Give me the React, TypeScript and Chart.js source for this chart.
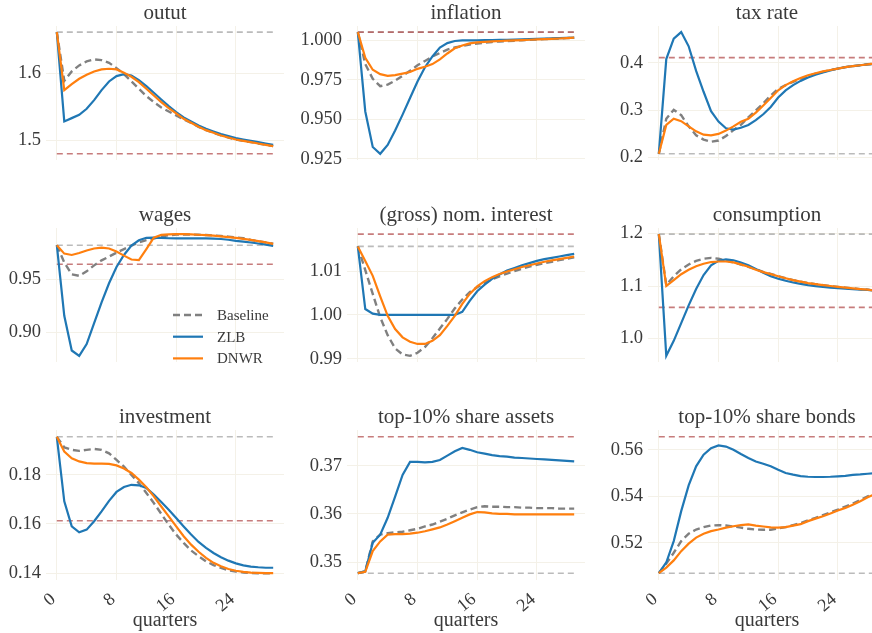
import React, { useEffect, useRef } from 'react';
import { Chart, registerables } from 'chart.js';
Chart.register(...registerables);

// ---------------- data ----------------
const quarters = [0,1,2,3,4,5,6,7,8,9,10,11,12,13,14,15,16,17,18,19,20,21,22,23,24,25,26,27,28,29];
const xTickValues = [0, 8, 16, 24];
const seriesLabels = ['Baseline', 'ZLB', 'DNWR'];

const outputBaseline = [1.662,1.589,1.603,1.612,1.618,1.621,1.620,1.616,1.608,1.599,1.588,1.577,1.566,1.557,1.549,1.543,1.537,1.531,1.526,1.520,1.515,1.511,1.507,1.504,1.501,1.499,1.497,1.495,1.493,1.491];
const outputZLB = [1.662,1.528,1.533,1.538,1.547,1.560,1.575,1.588,1.596,1.599,1.597,1.590,1.581,1.571,1.561,1.551,1.542,1.534,1.528,1.522,1.517,1.513,1.509,1.506,1.503,1.501,1.499,1.497,1.495,1.493];
const outputDNWR = [1.662,1.575,1.584,1.592,1.598,1.603,1.606,1.607,1.606,1.601,1.595,1.587,1.577,1.567,1.557,1.548,1.540,1.532,1.526,1.520,1.515,1.511,1.507,1.504,1.501,1.499,1.497,1.495,1.493,1.491];

const inflationBaseline = [1.0052,0.985,0.9757,0.971,0.972,0.9745,0.9776,0.9808,0.9842,0.987,0.9898,0.992,0.9942,0.9955,0.9964,0.9974,0.998,0.9985,0.999,0.9993,0.9996,0.9998,1.0001,1.0003,1.0006,1.0008,1.001,1.0012,1.0014,1.0017];
const inflationZLB = [1.0052,0.955,0.9325,0.9282,0.9338,0.943,0.953,0.9635,0.974,0.983,0.9898,0.9955,0.9983,0.9996,1.0,1.0,1.0,1.0001,1.0002,1.0003,1.0004,1.0005,1.0006,1.0008,1.001,1.0011,1.0013,1.0014,1.0016,1.0018];
const inflationDNWR = [1.0052,0.9889,0.9814,0.9786,0.9776,0.978,0.979,0.980,0.982,0.9833,0.985,0.988,0.9917,0.995,0.9968,0.9981,0.9987,0.9991,0.9994,0.9996,0.9998,1.0,1.0002,1.0004,1.0006,1.0008,1.001,1.0012,1.0014,1.0017];

const taxBaseline = [0.208,0.282,0.301,0.2896,0.266,0.247,0.238,0.2335,0.236,0.2455,0.258,0.269,0.285,0.2996,0.3148,0.331,0.345,0.353,0.360,0.366,0.372,0.377,0.381,0.385,0.388,0.391,0.393,0.395,0.397,0.398];
const taxZLB = [0.208,0.408,0.451,0.465,0.435,0.383,0.339,0.298,0.276,0.262,0.259,0.263,0.269,0.279,0.2915,0.307,0.327,0.342,0.353,0.362,0.369,0.375,0.380,0.384,0.388,0.391,0.393,0.395,0.397,0.398];
const taxDNWR = [0.208,0.269,0.282,0.277,0.266,0.2555,0.2485,0.247,0.250,0.257,0.266,0.2758,0.282,0.295,0.310,0.326,0.342,0.353,0.361,0.368,0.374,0.378,0.382,0.385,0.388,0.391,0.393,0.395,0.397,0.399];

const wagesBaseline = [0.9817,0.9655,0.9544,0.953,0.9572,0.9628,0.9675,0.971,0.9747,0.978,0.9813,0.9842,0.9864,0.988,0.9897,0.991,0.9916,0.9918,0.9917,0.9915,0.9912,0.9908,0.9903,0.9897,0.989,0.9882,0.9866,0.9855,0.9842,0.983];
const wagesZLB = [0.9817,0.9155,0.883,0.878,0.889,0.9086,0.928,0.946,0.9613,0.9725,0.9813,0.9863,0.9886,0.9888,0.9885,0.9882,0.988,0.988,0.988,0.988,0.988,0.9878,0.9875,0.9868,0.9858,0.985,0.9842,0.9833,0.9822,0.981];
const wagesDNWR = [0.9817,0.9738,0.9725,0.9744,0.9767,0.9786,0.9794,0.9786,0.9758,0.9719,0.9683,0.9677,0.978,0.9888,0.9913,0.9919,0.9921,0.992,0.9918,0.9915,0.9911,0.9906,0.99,0.9893,0.9885,0.9876,0.9866,0.9855,0.9843,0.983];

const interestBaseline = [1.0156,1.0102,1.0048,0.9995,0.9954,0.9924,0.991,0.9907,0.9914,0.9927,0.9947,0.9969,0.9991,1.0015,1.0035,1.0052,1.0063,1.0073,1.0081,1.0088,1.0094,1.01,1.0105,1.011,1.0114,1.0118,1.0121,1.0125,1.0128,1.0131];
const interestZLB = [1.0156,1.00135,1.0003,1.0,1.0,1.0,1.0,1.0,1.0,1.0,1.0,1.0,1.0,1.0,1.0007,1.0032,1.0054,1.0069,1.0082,1.0092,1.0101,1.0107,1.0113,1.0118,1.0123,1.0127,1.013,1.0133,1.0136,1.0139];
const interestDNWR = [1.0156,1.0123,1.0089,1.0042,0.9998,0.9968,0.9949,0.9939,0.9934,0.9934,0.9941,0.9954,0.9975,0.9998,1.0025,1.0048,1.0065,1.0077,1.0086,1.0093,1.0099,1.0104,1.0109,1.0113,1.0117,1.0121,1.0124,1.0127,1.013,1.0133];

const consumptionBaseline = [1.199,1.102,1.1186,1.132,1.141,1.148,1.152,1.1537,1.152,1.149,1.145,1.141,1.1366,1.132,1.127,1.1232,1.1186,1.1148,1.1113,1.1083,1.1056,1.1035,1.1017,1.1,1.0983,1.0968,1.0955,1.0942,1.093,1.091];
const consumptionZLB = [1.199,0.967,0.9955,1.0293,1.0632,1.0943,1.121,1.1395,1.148,1.1508,1.1492,1.145,1.1395,1.1327,1.1254,1.1186,1.114,1.11,1.1068,1.104,1.1017,1.0998,1.0983,1.097,1.096,1.095,1.094,1.0932,1.0925,1.0915];
const consumptionDNWR = [1.199,1.1,1.1113,1.1225,1.131,1.1378,1.1424,1.1457,1.1468,1.1468,1.145,1.1412,1.1366,1.131,1.1265,1.1226,1.1186,1.1148,1.1113,1.1083,1.1056,1.1035,1.1017,1.1,1.0983,1.0968,1.0955,1.0942,1.093,1.091];

const investmentBaseline = [0.1954,0.1911,0.1901,0.1897,0.1901,0.1905,0.1901,0.1887,0.186,0.1833,0.1799,0.1766,0.1726,0.1685,0.1641,0.1597,0.1557,0.1523,0.1492,0.1469,0.1448,0.1433,0.1422,0.1412,0.1407,0.1403,0.1401,0.14,0.14,0.14];
const investmentZLB = [0.1954,0.1692,0.159,0.1566,0.1577,0.1611,0.1651,0.1694,0.173,0.175,0.1759,0.1757,0.1746,0.1719,0.1689,0.1658,0.1624,0.159,0.1557,0.1527,0.1503,0.1482,0.1465,0.1451,0.144,0.1432,0.1427,0.1424,0.1422,0.1422];
const investmentDNWR = [0.1954,0.1894,0.1867,0.1854,0.1847,0.1845,0.1845,0.1844,0.1838,0.1825,0.1807,0.178,0.1749,0.1712,0.1671,0.1631,0.159,0.155,0.1516,0.1487,0.1462,0.1442,0.1428,0.1417,0.141,0.1405,0.1402,0.1401,0.14,0.14];

const assetsBaseline = [0.3477,0.3481,0.3543,0.3557,0.356,0.3562,0.3563,0.3566,0.3569,0.3574,0.3578,0.3584,0.359,0.3597,0.3603,0.3609,0.3614,0.3616,0.3615,0.3615,0.3614,0.3614,0.3613,0.3613,0.3612,0.3612,0.3612,0.3611,0.3611,0.3611];
const assetsZLB = [0.3477,0.3481,0.354,0.3557,0.3592,0.3636,0.3681,0.3708,0.3708,0.3707,0.3708,0.3712,0.3721,0.373,0.3737,0.3733,0.3728,0.3725,0.3722,0.372,0.3719,0.3717,0.3716,0.3715,0.3714,0.3713,0.3712,0.3711,0.371,0.3709];
const assetsDNWR = [0.3477,0.348,0.3523,0.3543,0.3557,0.3558,0.3558,0.3559,0.3561,0.3564,0.3568,0.3572,0.3578,0.3585,0.3592,0.3599,0.3604,0.3603,0.3601,0.36,0.36,0.3599,0.3599,0.3599,0.3599,0.3599,0.3599,0.3599,0.3599,0.3599];

const bondsBaseline = [0.5069,0.511,0.5157,0.5207,0.5239,0.5257,0.5267,0.5274,0.5276,0.5274,0.527,0.5265,0.526,0.5257,0.5256,0.5256,0.5262,0.5267,0.5276,0.5285,0.5296,0.5307,0.5319,0.5331,0.5343,0.5356,0.5369,0.5384,0.54,0.5413];
const bondsZLB = [0.5069,0.5115,0.5207,0.5336,0.5447,0.5529,0.5579,0.5607,0.5619,0.5614,0.56,0.5582,0.5565,0.555,0.554,0.5529,0.5514,0.55,0.5493,0.5487,0.5484,0.5483,0.5483,0.5484,0.5486,0.5488,0.5492,0.5494,0.5497,0.55];
const bondsDNWR = [0.5069,0.5093,0.5124,0.5164,0.5196,0.5222,0.5239,0.525,0.5257,0.5265,0.5271,0.5276,0.5279,0.5274,0.527,0.5266,0.5265,0.5267,0.5274,0.528,0.5293,0.5304,0.5314,0.5326,0.5339,0.535,0.5364,0.5379,0.5396,0.541];

// initial steady state (light gray dashed) and final steady state (red dashed)
const initialLevels = [1.662, 1.0052, 0.208, 0.9817, 1.0156, 1.199, 0.1954, 0.3477, 0.5069];
const finalLevels = [1.4795, 1.00525, 0.411, 0.9638, 1.0184, 1.0593, 0.1613, 0.376, 0.5656];

const panelTitles = ['outut', 'inflation', 'tax rate', 'wages', '(gross) nom. interest', 'consumption', 'investment', 'top-10% share assets', 'top-10% share bonds'];
const yTickLists = [
  [1.5, 1.6],
  [0.925, 0.95, 0.975, 1.0],
  [0.2, 0.3, 0.4],
  [0.9, 0.95],
  [0.99, 1.0, 1.01],
  [1.0, 1.1, 1.2],
  [0.14, 0.16, 0.18],
  [0.35, 0.36, 0.37],
  [0.52, 0.54, 0.56],
];
const yDecimals = [1, 3, 1, 2, 2, 1, 2, 2, 2];

const baselineSeries = [outputBaseline, inflationBaseline, taxBaseline, wagesBaseline, interestBaseline, consumptionBaseline, investmentBaseline, assetsBaseline, bondsBaseline];
const zlbSeries = [outputZLB, inflationZLB, taxZLB, wagesZLB, interestZLB, consumptionZLB, investmentZLB, assetsZLB, bondsZLB];
const dnwrSeries = [outputDNWR, inflationDNWR, taxDNWR, wagesDNWR, interestDNWR, consumptionDNWR, investmentDNWR, assetsDNWR, bondsDNWR];

// ---------------- styles ----------------
const FONT = '"Liberation Serif", "Times New Roman", serif';
const TEXT = '#3a3a3a';
const GRID = '#f4f1e8';
const C_BASE = '#808080';
const C_ZLB = '#1f77b4';
const C_DNWR = '#ff7f0e';
const C_INIT = 'rgba(150,150,150,0.65)';
const C_FINAL = 'rgba(180,80,80,0.75)';

const YW = 60;
const TOP = 26;
const PLOT_H = 150;
const RIGHT_PAD = 2;
const CANVAS_W = 300;

const titlePlugin = {
  id: 'panelTitle',
  afterDraw(chart: any, _args: any, opts: any) {
    const { ctx, chartArea } = chart;
    ctx.save();
    ctx.font = `21px ${FONT}`;
    ctx.fillStyle = TEXT;
    ctx.textAlign = 'center';
    ctx.textBaseline = 'alphabetic';
    ctx.fillText(opts.text, (chartArea.left + chartArea.right) / 2, chartArea.top - 7);
    ctx.restore();
  },
};

const legendPlugin = {
  id: 'panelLegend',
  afterDraw(chart: any, _args: any, opts: any) {
    if (!opts || !opts.show) return;
    const { ctx, chartArea } = chart;
    const items = [
      { label: seriesLabels[0], color: C_BASE, dash: [7, 4], w: 2.4 },
      { label: seriesLabels[1], color: C_ZLB, dash: [], w: 2.2 },
      { label: seriesLabels[2], color: C_DNWR, dash: [], w: 2.2 },
    ];
    const x0 = chartArea.left + 127;
    ctx.save();
    items.forEach((it, i) => {
      const y = chartArea.top + 87 + i * 21.7;
      ctx.beginPath();
      ctx.setLineDash(it.dash);
      ctx.strokeStyle = it.color;
      ctx.lineWidth = it.w;
      ctx.moveTo(x0, y);
      ctx.lineTo(x0 + 30, y);
      ctx.stroke();
      ctx.setLineDash([]);
      ctx.fillStyle = TEXT;
      ctx.font = `15px ${FONT}`;
      ctx.textAlign = 'left';
      ctx.textBaseline = 'middle';
      ctx.fillText(it.label, x0 + 44, y + 1);
    });
    ctx.restore();
  },
};

function Panel({ idx }: { idx: number }) {
  const ref = useRef<HTMLCanvasElement>(null);
  const row = Math.floor(idx / 3);
  const col = idx % 3;
  const bottom = row === 2;
  const xh = bottom ? 53 : 0;
  const H = TOP + PLOT_H + xh;

  useEffect(() => {
    const base = baselineSeries[idx];
    const zlb = zlbSeries[idx];
    const dnwr = dnwrSeries[idx];
    const init = initialLevels[idx];
    const fin = finalLevels[idx];
    const all = [...base, ...zlb, ...dnwr, init, fin];
    const lo = Math.min(...all);
    const hi = Math.max(...all);
    const pad = (hi - lo) * 0.05;
    const ymin = lo - pad;
    const ymax = hi + pad;
    const xFirst = quarters[0];
    const xLast = quarters[quarters.length - 1];
    const xPad = (xLast - xFirst) * 0.05;
    const toPts = (arr: number[]) => quarters.map((q, i) => ({ x: q, y: arr[i] }));
    const line = (v: number) => [{ x: xFirst, y: v }, { x: xLast, y: v }];

    const chart = new Chart(ref.current as HTMLCanvasElement, {
      type: 'line',
      data: {
        datasets: [
          { label: seriesLabels[2], data: toPts(dnwr), borderColor: C_DNWR, borderWidth: 2.2, pointRadius: 0, order: 1 },
          { label: seriesLabels[1], data: toPts(zlb), borderColor: C_ZLB, borderWidth: 2.2, pointRadius: 0, order: 2 },
          { label: seriesLabels[0], data: toPts(base), borderColor: C_BASE, borderWidth: 2.4, borderDash: [7, 4], pointRadius: 0, order: 3 },
          { label: 'final', data: line(fin), borderColor: C_FINAL, borderWidth: 1.6, borderDash: [6, 4], pointRadius: 0, order: 4 },
          { label: 'initial', data: line(init), borderColor: C_INIT, borderWidth: 1.6, borderDash: [6, 4], pointRadius: 0, order: 5 },
        ] as any,
      },
      options: {
        animation: false,
        responsive: false,
        events: [],
        layout: { padding: { top: TOP, right: RIGHT_PAD, left: 0, bottom: 0 } },
        plugins: {
          legend: { display: false },
          tooltip: { enabled: false },
          panelTitle: { text: panelTitles[idx] },
          panelLegend: { show: idx === 3 },
        } as any,
        scales: {
          x: {
            type: 'linear',
            min: xFirst - xPad,
            max: xLast + xPad,
            border: { display: false },
            grid: { color: GRID, lineWidth: 1, drawTicks: false },
            afterBuildTicks: (s: any) => { s.ticks = xTickValues.map((v) => ({ value: v })); },
            afterFit: (s: any) => { s.height = xh; },
            ticks: {
              display: bottom,
              autoSkip: false,
              minRotation: 40,
              maxRotation: 40,
              padding: 6,
              color: TEXT,
              font: { family: FONT, size: 18 },
              callback: (v: any) => String(v) + ' ',
            },
            title: {
              display: bottom,
              text: 'quarters',
              color: TEXT,
              font: { family: FONT, size: 20 },
              padding: { top: 0, bottom: 0 },
            },
          },
          y: {
            type: 'linear',
            min: ymin,
            max: ymax,
            border: { display: false },
            grid: { color: GRID, lineWidth: 1, drawTicks: false },
            afterBuildTicks: (s: any) => {
              s.ticks = yTickLists[idx].filter((v) => v >= ymin && v <= ymax).map((v) => ({ value: v }));
            },
            afterFit: (s: any) => { s.width = YW; },
            ticks: {
              padding: 5,
              color: TEXT,
              font: { family: FONT, size: 18.5 },
              callback: (v: any) => Number(v).toFixed(yDecimals[idx]),
            },
          },
        },
      } as any,
      plugins: [titlePlugin, legendPlugin] as any,
    });
    return () => chart.destroy();
  }, [idx]);

  return (
    <canvas
      ref={ref}
      width={CANVAS_W}
      height={H}
      style={{ position: 'absolute', left: -14 + 301 * col, top: 202 * row, width: CANVAS_W, height: H }}
    />
  );
}

export default function App() {
  return (
    <div style={{ position: 'fixed', left: 0, top: 0, width: 872, height: 633, overflow: 'hidden', background: '#ffffff' }}>
      {[0, 1, 2, 3, 4, 5, 6, 7, 8].map((i) => (
        <Panel key={i} idx={i} />
      ))}
    </div>
  );
}
